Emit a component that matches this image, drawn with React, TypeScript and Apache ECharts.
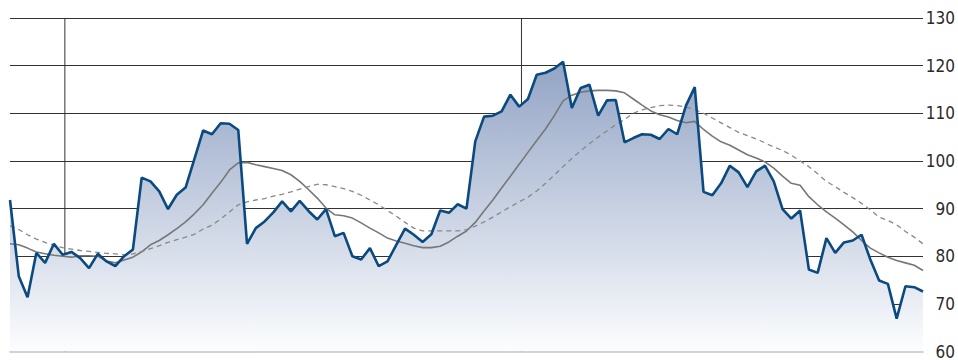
import React, { useEffect, useRef } from "react";
import * as echarts from "echarts";

// Weekly index values (105 weeks)
const priceValues: number[] = [
  91.8, 75.8, 71.4, 80.7, 78.6, 82.6, 80.3, 80.9, 79.6, 77.5,
  80.5, 78.9, 77.9, 80.0, 81.4, 96.5, 95.7, 93.6, 89.9, 92.9,
  94.4, 100.4, 106.4, 105.6, 107.9, 107.8, 106.5, 82.6, 85.9, 87.3,
  89.2, 91.5, 89.4, 91.6, 89.5, 87.7, 89.9, 84.2, 84.9, 80.0,
  79.3, 81.7, 77.9, 78.9, 82.4, 85.8, 84.5, 83.0, 84.6, 89.6,
  89.1, 90.9, 90.0, 104.1, 109.3, 109.5, 110.4, 113.9, 111.4, 113.0,
  118.1, 118.5, 119.4, 120.8, 111.1, 115.3, 116.0, 109.5, 112.7, 112.8,
  103.9, 104.8, 105.6, 105.5, 104.6, 106.7, 105.6, 111.6, 115.5, 93.5,
  92.8, 95.3, 99.0, 97.6, 94.5, 97.8, 99.0, 95.7, 89.9, 87.9,
  89.6, 77.2, 76.5, 83.8, 80.7, 82.9, 83.3, 84.5, 79.3, 74.9,
  74.2, 66.9, 73.7, 73.5, 72.6,
];

// Short moving average (solid grey)
const shortAvgValues: number[] = [
  82.6, 82.4, 81.7, 80.9, 80.5, 80.2, 80.0, 79.8, 80.1, 80.1,
  80.0, 79.0, 78.6, 79.2, 79.8, 80.9, 82.4, 83.3, 84.5, 85.8,
  87.2, 88.9, 90.8, 93.2, 95.5, 98.1, 99.6, 99.7, 99.2, 98.8,
  98.4, 98.0, 97.1, 95.7, 94.0, 92.2, 90.1, 88.7, 88.5, 88.0,
  87.0, 85.9, 84.9, 83.8, 83.2, 82.7, 82.2, 81.8, 81.8, 82.1,
  83.0, 84.2, 85.3, 87.1, 89.5, 91.8, 94.3, 96.8, 99.3, 101.8,
  104.3, 106.7, 109.5, 112.6, 113.8, 114.4, 114.7, 114.8, 114.8, 114.7,
  114.3, 113.0, 111.7, 110.5, 109.7, 109.2, 108.5, 108.0, 108.3, 106.6,
  105.2, 104.0, 103.3, 102.3, 101.3, 100.6, 99.8, 98.5, 96.8, 95.3,
  94.9, 92.5, 90.8, 89.3, 88.0, 86.6, 85.1, 83.3, 81.7, 80.7,
  79.8, 79.1, 78.6, 78.1, 77.0,
];

// Long moving average (dashed grey)
const longAvgValues: number[] = [
  86.4, 85.6, 84.5, 83.6, 82.9, 82.3, 81.8, 81.5, 81.2, 81.0,
  80.8, 80.6, 80.5, 80.3, 80.5, 81.0, 81.6, 82.2, 82.9, 83.5,
  84.0, 84.6, 85.7, 86.5, 87.8, 89.3, 90.8, 91.4, 91.8, 92.1,
  92.6, 93.0, 93.5, 94.1, 94.6, 95.1, 95.0, 94.6, 94.2, 93.6,
  92.8, 91.8, 90.8, 89.6, 88.4, 87.1, 85.9, 85.3, 85.3, 85.3,
  85.3, 85.3, 85.6, 86.3, 87.2, 88.2, 89.3, 90.4, 91.4, 92.4,
  93.7, 95.3, 97.0, 98.8, 100.5, 102.1, 103.6, 105.0, 106.3, 107.6,
  108.7, 110.0, 110.7, 111.2, 111.6, 111.7, 111.6, 111.3, 110.8, 110.0,
  109.0, 108.0, 107.0, 106.0, 105.3, 104.6, 103.8, 102.9, 102.2, 101.2,
  100.0, 98.8, 97.3, 95.7, 94.6, 93.4, 92.3, 91.1, 89.7, 88.2,
  87.5, 86.6, 85.2, 84.0, 82.6,
];

// Year boundaries (fractional week index)
const yearBoundaries: number[] = [6.25, 58.26];

const yTicks = { min: 60, max: 130, interval: 10 };

export default function App() {
  const ref = useRef<HTMLDivElement>(null);

  useEffect(() => {
    if (!ref.current) return;
    const chart = echarts.init(ref.current, undefined, { renderer: "svg" });
    const toPairs = (arr: number[]) => arr.map((v, i) => [i, v]);

    const boundarySeries = yearBoundaries.map((x) => ({
      type: "line" as const,
      data: [
        [x, yTicks.min],
        [x, yTicks.max],
      ],
      symbol: "none",
      z: 1,
      silent: true,
      lineStyle: { color: "#333333", width: 1 },
    }));

    chart.setOption({
      animation: false,
      grid: { left: 10, right: 32, top: 18, bottom: 8 },
      xAxis: {
        type: "value",
        min: 0,
        max: priceValues.length - 1,
        z: 5,
        axisLine: { show: true, lineStyle: { color: "#c4c4c4", width: 1.5 } },
        axisTick: { show: false },
        axisLabel: { show: false },
        splitLine: { show: false },
      },
      yAxis: {
        type: "value",
        position: "right",
        min: yTicks.min,
        max: yTicks.max,
        interval: yTicks.interval,
        axisLine: { show: false },
        axisTick: { show: false },
        splitLine: {
          show: true,
          showMinLine: false,
          lineStyle: { color: "#333333", width: 1 },
        },
        axisLabel: {
          align: "right",
          margin: 32,
          fontFamily: "'DejaVu Sans Condensed', 'Liberation Sans Narrow', 'Roboto', sans-serif",
          fontSize: 17,
          color: "#2a2a2a",
        },
      },
      series: [
        ...boundarySeries,
        {
          type: "line",
          data: toPairs(priceValues),
          symbol: "none",
          z: 2,
          silent: true,
          lineStyle: { width: 0 },
          areaStyle: {
            opacity: 1,
            color: new echarts.graphic.LinearGradient(0, 0, 0, 1, [
              { offset: 0, color: "#92a4c5" },
              { offset: 1, color: "#fcfdfe" },
            ]),
          },
        },
        {
          type: "line",
          data: toPairs(shortAvgValues),
          symbol: "none",
          z: 3,
          lineStyle: { color: "#777777", width: 1.6 },
        },
        {
          type: "line",
          data: toPairs(longAvgValues),
          symbol: "none",
          z: 3,
          lineStyle: { color: "#888888", width: 1.3, type: [5, 4] },
        },
        {
          type: "line",
          data: toPairs(priceValues),
          symbol: "none",
          z: 4,
          lineStyle: { color: "#0b4a80", width: 2.6 },
        },
      ],
    });
    return () => chart.dispose();
  }, []);

  return (
    <div
      ref={ref}
      style={{ position: "absolute", left: 0, top: 0, width: 958, height: 360 }}
    />
  );
}
